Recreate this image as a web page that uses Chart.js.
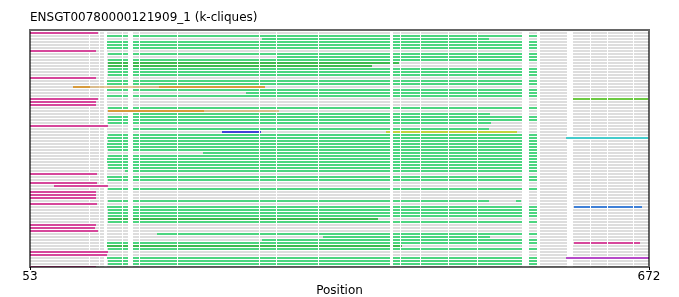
<!DOCTYPE html>
<html>
<head>
<meta charset="utf-8">
<script src="https://cdn.jsdelivr.net/npm/chart.js@4.4.1/dist/chart.umd.min.js"></script>
<style>
  html, body { margin: 0; padding: 0; background: #fff; }
</style>
</head>
<body>
<canvas id="chart" width="679" height="297"></canvas>
<script>
(function () {
  "use strict";

  /* ---- data: [row, from, to] in alignment positions ----------------- */
  var TITLE = "ENSGT00780000121909_1 (k-cliques)";
  var X_TITLE = "Position";
  var xTicks = [53, 672];
  var rowCount = 79;

  // alignment columns that are gaps in every sequence
  var gapCols = [
    [112, 113], [122, 123], [127, 130], [145, 146], [151, 156], [162, 163],
    [200, 201], [282, 283], [299, 300], [341, 342], [413, 416], [423, 424],
    [443, 444], [471, 472], [500, 501], [545, 552], [560, 563], [590, 596],
    [613, 614], [630, 631], [656, 657]
  ];

  var pinkRows = [
    [0, 53, 121], [6, 53, 119], [15, 53, 119], [22, 53, 121], [23, 53, 119],
    [24, 53, 119], [31, 53, 131], [47, 53, 120], [50, 53, 120], [51, 77, 131],
    [53, 53, 119], [54, 53, 119], [55, 53, 119], [57, 53, 120], [64, 53, 119],
    [65, 53, 118], [66, 53, 121], [73, 53, 131], [74, 53, 130], [78, 53, 119]
  ];

  var greenRows = [
    [1, 130, 561], [2, 285, 512], [3, 130, 561], [4, 130, 560], [5, 130, 560],
    [7, 131, 560], [8, 300, 560], [9, 131, 560], [12, 131, 561], [13, 131, 560],
    [14, 131, 560], [16, 130, 560], [17, 130, 560], [19, 130, 560], [20, 269, 560],
    [21, 130, 561], [25, 131, 562], [27, 154, 513], [28, 131, 560], [29, 131, 560],
    [30, 131, 514], [32, 156, 512], [34, 131, 561], [35, 130, 560], [36, 131, 560],
    [37, 130, 560], [38, 130, 560], [39, 131, 560], [40, 226, 560], [41, 131, 560],
    [42, 130, 560], [43, 130, 560], [44, 131, 560], [45, 131, 560], [46, 148, 560],
    [48, 130, 560], [49, 131, 560], [52, 131, 560], [56, 131, 512], [56, 539, 544],
    [58, 130, 560], [59, 131, 560], [60, 131, 560], [61, 131, 561], [63, 131, 560],
    [67, 180, 560], [68, 346, 513], [69, 285, 561], [70, 130, 562], [72, 131, 560],
    [75, 130, 561], [76, 131, 561], [77, 131, 561]
  ];

  var darkGreenRows = [[10, 131, 422], [11, 131, 395], [62, 131, 401], [71, 130, 425]];
  var orangeRows = [[18, 96, 113], [18, 182, 288], [26, 131, 227]];
  var orangeThinRows = [[18, 113, 182], [26, 227, 302]];
  var blueRows = [[33, 245, 284]];
  var yellowRows = [[33, 409, 540]];
  var limeRows = [[22, 596, 671]];
  var cyanRows = [[35, 589, 671]];
  var skyRows = [[58, 597, 665]];
  var magentaRows = [[70, 597, 663]];
  var purpleRows = [[75, 589, 672]];

  /* ---- helpers ------------------------------------------------------ */
  var cut = function (from, to) {
    var parts = [[from, to]];
    gapCols.forEach(function (g) {
      var next = [];
      parts.forEach(function (p) {
        if (g[1] <= p[0] || g[0] >= p[1]) { next.push(p); return; }
        if (g[0] > p[0]) next.push([p[0], g[0]]);
        if (g[1] < p[1]) next.push([g[1], p[1]]);
      });
      parts = next;
    });
    return parts;
  };

  var points = function (rows, withGaps) {
    var pts = [];
    rows.forEach(function (r) {
      var parts = withGaps ? cut(r[1], r[2]) : [[r[1], r[2]]];
      parts.forEach(function (p) {
        pts.push({ x: p[0], y: r[0] }, { x: p[1], y: r[0] }, { x: p[1], y: null });
      });
    });
    return pts;
  };

  var grayRows = [];
  for (var i = 0; i < rowCount; i++) grayRows.push([i, xTicks[0], xTicks[1]]);

  // Chart.js paints dataset 0 last, so a higher `order` sits underneath
  var seg = function (rows, color, width, withGaps, order) {
    return {
      data: points(rows, withGaps),
      order: order || 0,
      borderColor: color,
      borderWidth: width,
      borderCapStyle: "butt",
      pointRadius: 0,
      tension: 0,
      fill: false,
      spanGaps: false
    };
  };

  /* ---- frame drawn on top, like the reference's spines -------------- */
  var frame = {
    id: "frame",
    afterDatasetsDraw: function (chart) {
      var a = chart.chartArea, ctx = chart.ctx;
      ctx.save();
      ctx.strokeStyle = "rgba(0,0,0,0.6)";
      ctx.lineWidth = 2;
      ctx.strokeRect(a.left, a.top, a.right - a.left, a.bottom - a.top);
      ctx.restore();
    }
  };

  var FONT = "'DejaVu Sans', sans-serif";

  new Chart(document.getElementById("chart"), {
    type: "line",
    data: {
      datasets: [
        seg(grayRows, "#dddddd", 2, true, 5),
        seg(pinkRows, "#d6479b", 2, false),
        seg(greenRows, "#4cd580", 2, true),
        seg(darkGreenRows, "#3fb94f", 2, true),
        seg(orangeRows, "#d89b3c", 2, false),
        seg(orangeThinRows, "#d89b3c", 1, false),
        seg(blueRows, "#4242d6", 2, true),
        seg(yellowRows, "#c2d23f", 2, true),
        seg(limeRows, "#6cc941", 2, true),
        seg(cyanRows, "#45cccc", 2, false),
        seg(skyRows, "#3f80d6", 2, true),
        seg(magentaRows, "#d6479b", 2, true),
        seg(purpleRows, "#b64bc9", 2, false)
      ]
    },
    options: {
      responsive: false,
      animation: false,
      events: [],
      layout: { padding: { left: 30, right: 30, top: 0, bottom: 0 } },
      plugins: {
        legend: { display: false },
        tooltip: { enabled: false },
        title: {
          display: true,
          text: TITLE,
          align: "start",
          color: "#000",
          font: { family: FONT, size: 12, weight: "normal", lineHeight: 1 },
          padding: { top: 12, bottom: 6 }
        }
      },
      scales: {
        x: {
          type: "linear",
          min: xTicks[0],
          max: xTicks[1],
          afterBuildTicks: function (s) {
            s.ticks = xTicks.map(function (v) { return { value: v }; });
          },
          afterFit: function (s) { s.height = 30; },
          border: { display: false },
          grid: { drawOnChartArea: false, drawTicks: true, tickLength: 3, color: "#000" },
          ticks: {
            color: "#000",
            padding: 1,
            maxRotation: 0,
            autoSkip: false,
            font: { family: FONT, size: 12, lineHeight: 1 }
          },
          title: {
            display: true,
            text: X_TITLE,
            color: "#000",
            font: { family: FONT, size: 12, lineHeight: 1 },
            padding: { top: 2, bottom: 0 }
          }
        },
        y: {
          type: "linear",
          display: false,
          reverse: true,
          min: -1,
          max: rowCount - 1
        }
      }
    },
    plugins: [frame]
  });
})();
</script>
</body>
</html>
